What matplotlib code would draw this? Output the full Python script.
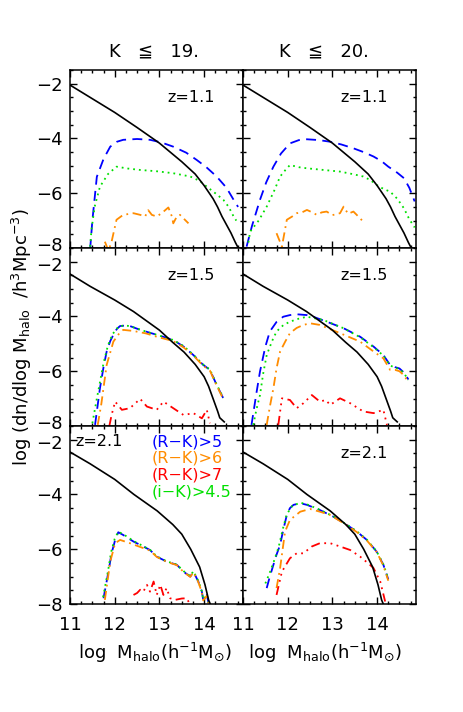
import numpy as np
import matplotlib.pyplot as plt
from matplotlib.ticker import MultipleLocator
from matplotlib.transforms import ScaledTranslation

plt.rcParams['font.family'] = ['DejaVu Sans', 'Noto Sans CJK JP']
plt.rcParams['mathtext.default'] = 'regular'

# halo mass function (solid black), one per redshift
hmf_x_z11 = [11.0, 11.5, 12.0, 12.5, 13.0, 13.5, 13.8, 14.0, 14.2, 14.3, 14.4, 14.5, 14.6, 14.7, 14.78]
hmf_y_z11 = [-2.05, -2.55, -3.05, -3.6, -4.17, -4.85, -5.3, -5.72, -6.2, -6.5, -6.85, -7.15, -7.45, -7.8, -8.05]
hmf_x_z15 = [11.0, 11.45, 12.0, 12.42, 13.0, 13.3, 13.55, 13.8, 14.0, 14.1, 14.2, 14.3, 14.35, 14.45]
hmf_y_z15 = [-2.45, -2.9, -3.4, -3.82, -4.5, -4.95, -5.3, -5.75, -6.2, -6.55, -7.0, -7.45, -7.7, -7.85]
hmf_x_z21 = [11.0, 11.45, 12.0, 12.43, 12.95, 13.3, 13.5, 13.7, 13.9, 14.02, 14.1, 14.15]
hmf_y_z21 = [-2.45, -2.88, -3.45, -4.0, -4.6, -5.1, -5.45, -6.0, -6.65, -7.3, -7.85, -8.05]

# K<=19, z=1.1
k19_z11_rk5_x = [11.45, 11.5, 11.6, 11.75, 11.9, 12.05, 12.19, 12.5, 12.79, 13.05, 13.31, 13.6, 13.83, 14.05, 14.28, 14.5, 14.66, 14.76]
k19_z11_rk5_y = [-8.05, -7.0, -5.4, -4.75, -4.3, -4.12, -4.05, -4.02, -4.05, -4.15, -4.3, -4.52, -4.78, -5.05, -5.39, -5.8, -6.24, -6.5]
k19_z11_ik_x = [11.45, 11.48, 11.55, 11.67, 11.85, 12.04, 12.3, 12.57, 12.95, 13.31, 13.69, 13.9, 14.06, 14.25, 14.43, 14.55, 14.66, 14.72]
k19_z11_ik_y = [-7.95, -7.34, -6.5, -5.76, -5.3, -5.03, -5.1, -5.15, -5.2, -5.27, -5.39, -5.55, -5.76, -6.0, -6.24, -6.5, -6.85, -7.0]
k19_z11_rk6_x = [11.78, 11.86, 11.93, 12.04, 12.19, 12.42, 12.57, 12.68, 12.75, 12.83, 12.94, 13.05, 13.2, 13.28, 13.31, 13.39, 13.46, 13.57, 13.65]
k19_z11_rk6_y = [-7.77, -8.1, -7.77, -6.97, -6.79, -6.73, -6.79, -6.85, -6.62, -6.79, -6.85, -6.73, -6.52, -6.85, -7.1, -6.85, -6.79, -6.97, -7.1]

# K<=20, z=1.1
k20_z11_rk5_x = [11.08, 11.2, 11.38, 11.52, 11.68, 11.85, 12.05, 12.25, 12.43, 12.7, 12.95, 13.2, 13.47, 13.7, 13.92, 14.1, 14.25, 14.45, 14.6, 14.72, 14.84]
k20_z11_rk5_y = [-7.95, -7.2, -6.24, -5.6, -5.03, -4.55, -4.18, -4.06, -4.03, -4.06, -4.12, -4.22, -4.36, -4.5, -4.66, -4.83, -5.03, -5.25, -5.45, -5.8, -6.3]
k20_z11_ik_x = [11.12, 11.16, 11.35, 11.53, 11.7, 11.83, 11.95, 12.05, 12.25, 12.43, 12.8, 13.17, 13.45, 13.69, 13.85, 13.99, 14.15, 14.29, 14.45, 14.6, 14.72, 14.84]
k20_z11_ik_y = [-7.8, -7.4, -7.0, -6.49, -5.9, -5.39, -5.15, -4.97, -5.05, -5.09, -5.15, -5.21, -5.3, -5.39, -5.52, -5.7, -5.85, -5.94, -6.2, -6.55, -6.95, -7.25]
k20_z11_rk6_x = [11.75, 11.87, 11.98, 12.1, 12.2, 12.32, 12.43, 12.55, 12.65, 12.76, 12.87, 13.0, 13.17, 13.25, 13.35, 13.47, 13.58, 13.69]
k20_z11_rk6_y = [-7.46, -7.95, -6.97, -6.85, -6.73, -6.7, -6.61, -6.7, -6.79, -6.7, -6.67, -6.8, -6.73, -6.49, -6.75, -6.67, -6.85, -7.04]

# K<=19, z=1.5
k19_z15_rk5_x = [11.56, 11.67, 11.75, 11.82, 11.9, 11.97, 12.05, 12.12, 12.25, 12.34, 12.57, 12.94, 13.1, 13.31, 13.54, 13.76, 13.98, 14.13, 14.28, 14.43]
k19_z15_rk5_y = [-7.96, -6.62, -5.85, -5.28, -4.9, -4.67, -4.45, -4.35, -4.33, -4.35, -4.49, -4.67, -4.75, -4.86, -5.1, -5.41, -5.77, -5.95, -6.5, -6.99]
k19_z15_ik_x = [11.5, 11.6, 11.67, 11.75, 11.85, 11.95, 12.08, 12.2, 12.34, 12.6, 12.94, 13.31, 13.54, 13.76, 13.98, 14.13, 14.28, 14.43]
k19_z15_ik_y = [-7.9, -7.0, -6.4, -5.7, -5.05, -4.65, -4.38, -4.33, -4.35, -4.5, -4.67, -4.86, -5.08, -5.4, -5.76, -5.94, -6.48, -6.98]
k19_z15_rk6_x = [11.62, 11.7, 11.82, 11.97, 12.1, 12.19, 12.42, 12.7, 12.94, 13.31, 13.54, 13.76, 13.98, 14.13, 14.28, 14.43]
k19_z15_rk6_y = [-7.96, -7.2, -5.77, -4.92, -4.62, -4.49, -4.53, -4.62, -4.74, -4.9, -5.13, -5.43, -5.8, -5.98, -6.52, -7.02]
k19_z15_rk7_x = [11.88, 11.93, 12.01, 12.16, 12.34, 12.57, 12.72, 12.94, 13.09, 13.31, 13.54, 13.76, 13.95, 14.06, 14.13]
k19_z15_rk7_y = [-8.0, -7.6, -7.11, -7.41, -7.35, -7.01, -7.29, -7.41, -7.11, -7.35, -7.6, -7.53, -7.72, -7.41, -7.9]

# K<=20, z=1.5
k20_z15_rk5_x = [11.19, 11.3, 11.38, 11.5, 11.6, 11.75, 11.9, 12.05, 12.2, 12.43, 12.57, 12.87, 13.25, 13.62, 13.92, 14.14, 14.29, 14.4, 14.5, 14.6, 14.7]
k20_z15_rk5_y = [-7.96, -6.8, -6.01, -5.1, -4.55, -4.2, -4.01, -3.95, -3.92, -3.95, -4.01, -4.19, -4.43, -4.74, -5.1, -5.41, -5.77, -5.85, -5.9, -6.05, -6.3]
k20_z15_ik_x = [11.23, 11.3, 11.38, 11.45, 11.53, 11.65, 11.75, 11.9, 12.05, 12.25, 12.43, 12.8, 13.25, 13.62, 13.92, 14.14, 14.29, 14.4, 14.5, 14.6, 14.7]
k20_z15_ik_y = [-7.96, -7.4, -6.87, -6.1, -5.41, -4.9, -4.55, -4.32, -4.19, -4.08, -4.01, -4.13, -4.43, -4.76, -5.12, -5.43, -5.79, -5.87, -5.92, -6.07, -6.32]
k20_z15_rk6_x = [11.53, 11.6, 11.68, 11.75, 11.83, 11.95, 12.05, 12.2, 12.35, 12.5, 12.72, 13.17, 13.62, 13.92, 14.14, 14.29, 14.4, 14.5, 14.6, 14.7]
k20_z15_rk6_y = [-7.96, -7.3, -6.62, -5.9, -5.28, -4.9, -4.61, -4.42, -4.31, -4.25, -4.31, -4.61, -4.92, -5.28, -5.53, -5.95, -5.95, -6.0, -6.15, -6.4]
k20_z15_rk7_x = [11.79, 11.87, 12.05, 12.2, 12.35, 12.54, 12.72, 12.85, 12.95, 13.17, 13.4, 13.69, 13.92, 14.14, 14.22]
k20_z15_rk7_y = [-7.96, -6.99, -7.05, -7.35, -7.17, -6.87, -7.11, -7.05, -7.23, -6.99, -7.17, -7.47, -7.53, -7.41, -7.96]

# K<=19, z=2.1
k19_z21_rk5_x = [11.75, 11.86, 11.93, 12.01, 12.08, 12.19, 12.42, 12.64, 12.79, 12.94, 13.16, 13.39, 13.54, 13.69, 13.76, 13.87, 13.95, 13.98, 14.06, 14.1]
k19_z21_rk5_y = [-7.79, -6.82, -6.15, -5.66, -5.38, -5.48, -5.72, -5.9, -6.03, -6.27, -6.45, -6.57, -6.82, -7.0, -6.82, -7.18, -7.55, -7.85, -7.67, -7.97]
k19_z21_ik_x = [11.74, 11.85, 11.92, 12.0, 12.08, 12.2, 12.42, 12.64, 12.79, 12.94, 13.16, 13.39, 13.54, 13.69, 13.76, 13.87, 13.95, 13.98, 14.06, 14.1]
k19_z21_ik_y = [-7.75, -6.8, -6.1, -5.62, -5.36, -5.46, -5.7, -5.89, -6.02, -6.26, -6.44, -6.56, -6.8, -6.98, -6.8, -7.16, -7.53, -7.84, -7.66, -7.96]
k19_z21_rk6_x = [11.78, 11.9, 12.01, 12.12, 12.34, 12.64, 12.79, 12.94, 13.16, 13.39, 13.54, 13.69, 13.76, 13.87, 13.95, 13.98, 14.06, 14.1]
k19_z21_rk6_y = [-7.85, -6.45, -5.78, -5.66, -5.78, -5.96, -6.05, -6.28, -6.46, -6.58, -6.83, -7.01, -6.84, -7.2, -7.57, -7.87, -7.7, -7.98]
k19_z21_rk7_x = [12.42, 12.5, 12.57, 12.64, 12.72, 12.79, 12.87, 12.94, 13.02, 13.09, 13.16, 13.24, 13.35, 13.5, 13.61, 13.69]
k19_z21_rk7_y = [-7.67, -7.6, -7.48, -7.55, -7.3, -7.55, -7.18, -7.67, -7.3, -7.67, -7.42, -7.79, -7.85, -7.8, -7.79, -8.03]

# K<=20, z=2.1
k20_z21_rk5_x = [11.53, 11.6, 11.68, 11.75, 11.83, 11.9, 11.98, 12.05, 12.13, 12.28, 12.43, 12.72, 13.02, 13.32, 13.55, 13.77, 13.99, 14.14, 14.25]
k20_z21_rk5_y = [-7.42, -7.0, -6.57, -6.2, -5.84, -5.3, -4.75, -4.5, -4.38, -4.32, -4.38, -4.57, -4.81, -5.11, -5.36, -5.66, -6.09, -6.57, -7.1]
k20_z21_ik_x = [11.5, 11.6, 11.7, 11.8, 11.9, 11.98, 12.1, 12.28, 12.43, 12.72, 13.02, 13.32, 13.55, 13.77, 13.99, 14.14, 14.25]
k20_z21_ik_y = [-7.25, -6.85, -6.4, -5.9, -5.2, -4.72, -4.42, -4.3, -4.36, -4.56, -4.8, -5.1, -5.35, -5.65, -6.08, -6.55, -7.08]
k20_z21_rk6_x = [11.75, 11.83, 11.94, 12.05, 12.28, 12.5, 12.72, 12.95, 13.32, 13.55, 13.77, 13.99, 14.14, 14.25]
k20_z21_rk6_y = [-7.42, -6.69, -5.36, -4.93, -4.63, -4.53, -4.63, -4.75, -5.12, -5.38, -5.68, -6.1, -6.6, -7.15]
k20_z21_rk7_x = [11.75, 11.87, 12.05, 12.2, 12.35, 12.54, 12.72, 12.95, 13.17, 13.4, 13.62, 13.84, 13.92, 14.07, 14.18]
k20_z21_rk7_y = [-7.67, -6.82, -6.33, -6.15, -6.15, -5.9, -5.78, -5.78, -5.9, -6.03, -6.27, -6.57, -6.69, -7.18, -7.91]

col_titles = ['K   \u2266   19.', 'K   \u2266   20.']
z_labels = ['z=1.1', 'z=1.5', 'z=2.1']
legend_labels = ['(R\u2212K)>5', '(R\u2212K)>6', '(R\u2212K)>7', '(i\u2212K)>4.5']

c_rk5 = '#0000ff'
c_rk6 = '#ff8c00'
c_rk7 = '#ff0000'
c_ik = '#00e000'

hmf = [(hmf_x_z11, hmf_y_z11), (hmf_x_z15, hmf_y_z15), (hmf_x_z21, hmf_y_z21)]
curves = [
    [[(k19_z11_rk5_x, k19_z11_rk5_y), (k19_z11_ik_x, k19_z11_ik_y), (k19_z11_rk6_x, k19_z11_rk6_y), None],
     [(k20_z11_rk5_x, k20_z11_rk5_y), (k20_z11_ik_x, k20_z11_ik_y), (k20_z11_rk6_x, k20_z11_rk6_y), None]],
    [[(k19_z15_rk5_x, k19_z15_rk5_y), (k19_z15_ik_x, k19_z15_ik_y), (k19_z15_rk6_x, k19_z15_rk6_y), (k19_z15_rk7_x, k19_z15_rk7_y)],
     [(k20_z15_rk5_x, k20_z15_rk5_y), (k20_z15_ik_x, k20_z15_ik_y), (k20_z15_rk6_x, k20_z15_rk6_y), (k20_z15_rk7_x, k20_z15_rk7_y)]],
    [[(k19_z21_rk5_x, k19_z21_rk5_y), (k19_z21_ik_x, k19_z21_ik_y), (k19_z21_rk6_x, k19_z21_rk6_y), (k19_z21_rk7_x, k19_z21_rk7_y)],
     [(k20_z21_rk5_x, k20_z21_rk5_y), (k20_z21_ik_x, k20_z21_ik_y), (k20_z21_rk6_x, k20_z21_rk6_y), (k20_z21_rk7_x, k20_z21_rk7_y)]],
]
# blue dashed, green dotted, orange dash-dot, red dash-dot-dot-dot
styles = [
    dict(color=c_rk5, dashes=(5.5, 3.5)),
    dict(color=c_ik, dashes=(1.0, 2.2)),
    dict(color=c_rk6, dashes=(5, 2.5, 1, 2.5)),
    dict(color=c_rk7, dashes=(5, 2.5, 1, 2.5, 1, 2.5, 1, 2.5)),
]

fig, axes = plt.subplots(3, 2, figsize=(4.63, 7.12), dpi=100, sharex=True, sharey=True)
fig.subplots_adjust(left=0.1512, right=0.8985, top=0.9017, bottom=0.1517, wspace=0, hspace=0)

for r in range(3):
    for c in range(2):
        ax = axes[r, c]
        for s, st in zip(curves[r][c], styles):
            if s is None:
                continue
            ax.plot(s[0], s[1], lw=1.3, **st)
        ax.plot(hmf[r][0], hmf[r][1], color='black', lw=1.2)
        ax.set_xlim(11, 14.87)
        ax.set_ylim(-8.0, -1.5)
        ax.xaxis.set_major_locator(MultipleLocator(1))
        ax.xaxis.set_minor_locator(MultipleLocator(0.25))
        ax.yaxis.set_major_locator(MultipleLocator(2))
        ax.yaxis.set_minor_locator(MultipleLocator(0.5))
        ax.tick_params(which='both', direction='in', top=True, right=True, width=1, labelsize=13)
        ax.tick_params(which='major', length=5)
        ax.tick_params(which='minor', length=2.5)
        ax.tick_params(axis='x', pad=9)
        ax.tick_params(axis='y', pad=5)
        for sp in ax.spines.values():
            sp.set_linewidth(1.1)
        if r == 2 and c == 0:
            ax.text(11.13, -2.07, z_labels[r], fontsize=11.5, ha='left', va='center')
        else:
            ax.text(13.7, -2.52, z_labels[r], fontsize=11.5, ha='center', va='center')

# nudge the -8 / -2 labels apart where two panels meet
for r in range(3):
    ax = axes[r, 0]
    locs = ax.yaxis.get_majorticklocs()
    for loc, tick in zip(locs, ax.yaxis.get_major_ticks(len(locs))):
        dy = 0
        if abs(loc + 8) < 1e-6 and r < 2:
            dy = 3
        elif abs(loc + 2) < 1e-6 and r > 0:
            dy = -2
        if dy:
            tick.label1.set_transform(tick.label1.get_transform()
                                      + ScaledTranslation(0, dy / 72, fig.dpi_scale_trans))

leg_ax = axes[2, 0]
for i, (lab, col) in enumerate(zip(legend_labels, [c_rk5, c_rk6, c_rk7, c_ik])):
    leg_ax.text(12.83, -2.07 - 0.61 * i, lab, color=col, fontsize=11.5, ha='left', va='center')

fig.text(0.332, 0.927, col_titles[0], fontsize=13, ha='center', va='center')
fig.text(0.700, 0.927, col_titles[1], fontsize=13, ha='center', va='center')
xlab = r'log  M$_{halo}$(h$^{-1}$M$_{\odot}$)'
fig.text(0.335, 0.083, xlab, fontsize=13, ha='center', va='center')
fig.text(0.702, 0.083, xlab, fontsize=13, ha='center', va='center')
fig.text(0.047, 0.527, r'log (dn/dlog M$_{halo}$  /h$^{3}$Mpc$^{-3}$)', fontsize=13,
         rotation=90, ha='center', va='center')

fig.savefig('out.png', dpi=100)
